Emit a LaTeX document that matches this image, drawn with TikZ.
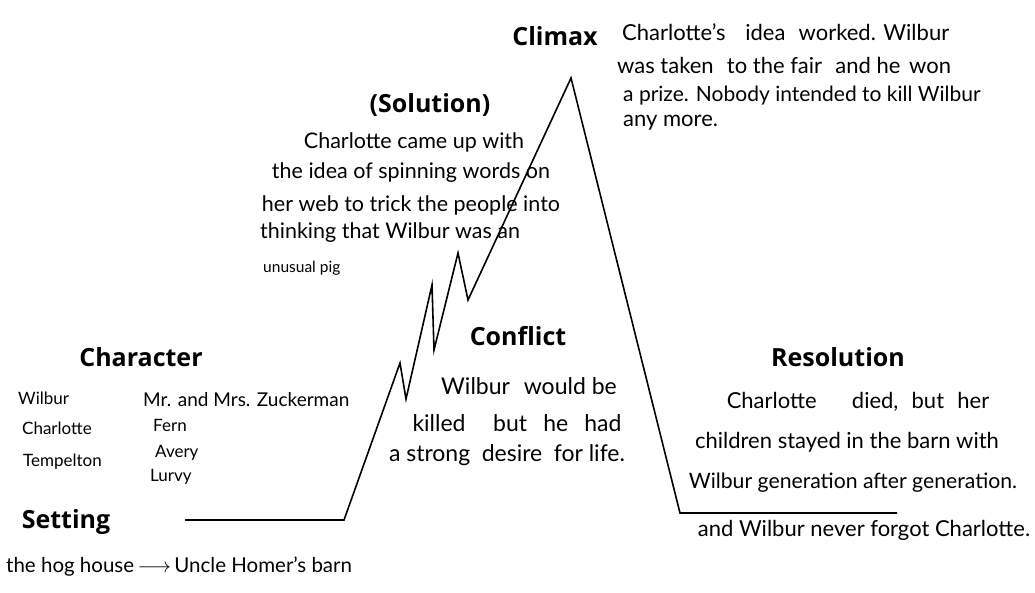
\documentclass[tikz,border=0pt]{standalone}
\usepackage{fontspec}
\setmainfont{Lato}
\newfontfamily\headfont{Open Sans}
\begin{document}
\begin{tikzpicture}[x=1pt,y=-1pt,
  head/.style={font=\headfont\bfseries\fontsize{25}{30}\selectfont, inner sep=0pt, text=black},
  hand/.style={font=\fontsize{22}{26}\selectfont, inner sep=0pt, text=black},
  handsm/.style={font=\fontsize{17}{20}\selectfont, inner sep=0pt, text=black},
  plot/.style={line width=1.6pt, line join=miter, black}]
\useasboundingbox[fill=white] (0,0) rectangle (1035,593);

% plot line
\coordinate (p0) at (185,520);
\coordinate (p1) at (344,520);
\coordinate (p2) at (400,363);
\coordinate (p3) at (406,399);
\coordinate (p4) at (432,285);
\coordinate (p5) at (434,350);
\coordinate (p6) at (458,253);
\coordinate (p7) at (468,300);
\coordinate (p8) at (571,78);
\coordinate (p9) at (680,513);
\coordinate (p10) at (897,513);
\draw[plot] (p0) -- (p1) -- (p2) -- (p3) -- (p4) -- (p5) -- (p6) -- (p7) -- (p8) -- (p9) -- (p10);

% headings
\node[head] (climax) at (555,36) {Climax};
\node[head] (solution) at (430,105) {(Solution)};
\node[head] (conflict) at (518,336) {Conflict};
\node[head] (character) at (141,357) {Character};
\node[head] (setting) at (66,522) {Setting};
\node[head] (resolution) at (838,357) {Resolution};

% climax text
\node[hand, anchor=west] (cl1) at (622,32) {Charlotte's\hspace{0.9em}idea\hspace{0.6em}worked. Wilbur};
\node[hand, anchor=west] (cl2) at (617,65) {was taken\hspace{0.6em}to the fair\hspace{0.6em}and he\hspace{0.4em}won};
\node[hand, anchor=west, font=\fontsize{21}{25}\selectfont] (cl3) at (623,96) {a prize. Nobody intended to kill Wilbur};
\node[hand, anchor=west] (cl4) at (623,123) {any more.};

% solution text
\node[hand, font=\fontsize{21.5}{26}\selectfont] (so1) at (414,142) {Charlotte came up with};
\node[hand, font=\fontsize{21.5}{26}\selectfont] (so2) at (411,173) {the idea of spinning words on};
\node[hand, font=\fontsize{21.5}{26}\selectfont] (so3) at (411,205) {her web to trick the people into};
\node[hand, anchor=west, font=\fontsize{21.5}{26}\selectfont] (so4) at (260,233) {thinking that Wilbur was an};
\node[hand, anchor=west, font=\fontsize{15.5}{18}\selectfont] (so5) at (263,268) {unusual pig};

% conflict text
\node[hand, font=\fontsize{23}{27}\selectfont] (co1) at (529,386) {Wilbur\hspace{0.6em}would be};
\node[hand, font=\fontsize{23}{27}\selectfont] (co2) at (517,423) {killed\hspace{1.2em}but\hspace{0.7em}he\hspace{0.7em}had};
\node[hand, font=\fontsize{23}{27}\selectfont] (co3) at (507,455) {a strong\hspace{0.5em}desire\hspace{0.5em}for life.};

% characters
\node[handsm, anchor=west] (ch1) at (18,398) {Wilbur};
\node[handsm, anchor=west] (ch2) at (22,428) {Charlotte};
\node[handsm, anchor=west] (ch3) at (23,462) {Tempelton};
\node[handsm, anchor=west, font=\fontsize{19}{23}\selectfont] (ch4) at (143,400) {Mr. and Mrs. Zuckerman};
\node[handsm, anchor=west] (ch5) at (153,425) {Fern};
\node[handsm, anchor=west] (ch6) at (155,453) {Avery};
\node[handsm, anchor=west] (ch7) at (150,477) {Lurvy};

% setting text
\node[hand, anchor=west, font=\fontsize{20.5}{24}\selectfont] (se1) at (6,567) {the hog house\,$\longrightarrow$\,Uncle Homer's barn};

% resolution text
\node[hand] (re1) at (858,402) {Charlotte\hspace{1.6em}died,\hspace{0.6em}but\hspace{0.6em}her};
\node[hand] (re2) at (847,442) {children stayed in the barn with};
\node[hand, font=\fontsize{21.2}{25}\selectfont] (re3) at (853,483) {Wilbur generation after generation.};
\node[hand] (re4) at (864,530) {and Wilbur never forgot Charlotte.};
\end{tikzpicture}
\end{document}
